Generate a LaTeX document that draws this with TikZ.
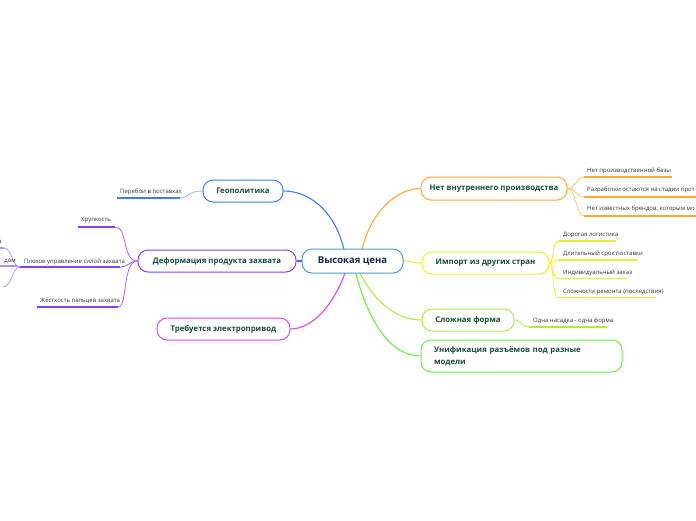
\documentclass[tikz,border=0pt]{standalone}
\usepackage{fontspec}
\setmainfont{Open Sans}
\pgfdeclarelayer{background}
\pgfsetlayers{background,main}
\definecolor{cBlue}{HTML}{3D7BFF}
\definecolor{cPurple}{HTML}{8B3DFF}
\definecolor{cLPurple}{HTML}{B08CFF}
\definecolor{cMag}{HTML}{E545E8}
\definecolor{cOrange}{HTML}{FFA92E}
\definecolor{cYellow}{HTML}{EEEE30}
\definecolor{cLime}{HTML}{A8EE40}
\definecolor{cGreen}{HTML}{66F040}
\definecolor{cCenter}{HTML}{4C9BD6}
\definecolor{lbl}{HTML}{1A4A3C}
\definecolor{ctr}{HTML}{10294D}
\definecolor{txt}{HTML}{333333}
\begin{document}
\begin{tikzpicture}[x=1pt,y=-1pt,
 box/.style={draw, line width=1pt, rounded corners=10pt, fill=white, font=\bfseries\fontsize{7.8}{9}\selectfont, text=lbl, inner sep=0pt, minimum height=22pt},
 small/.style={font=\fontsize{6}{7}\selectfont, text=txt, inner sep=0pt, anchor=base west},
 smallr/.style={font=\fontsize{6}{7}\selectfont, text=txt, inner sep=0pt, anchor=base east},
 br/.style={line width=1.1pt},
 ul/.style={line width=1.6pt}]
\clip (0,0) rectangle (696,520);
\useasboundingbox (0,0) rectangle (696,520);

% main nodes
\node[box, draw=cCenter, minimum width=101pt, minimum height=24pt, font=\bfseries\fontsize{9.5}{11}\selectfont, text=ctr] (c) at (352.5,261) {Высокая цена};
\node[box, draw=cBlue, minimum width=80pt] (geo) at (243,191) {Геополитика};
\node[box, draw=cPurple, minimum width=158pt] (def) at (217,261) {Деформация продукта захвата};
\node[box, draw=cMag, minimum width=133pt] (el) at (223.5,329) {Требуется электропривод};
\node[box, draw=cOrange, minimum width=146pt, minimum height=23pt] (np) at (494,188.5) {Нет внутреннего производства};
\node[box, draw=cYellow, minimum width=127pt] (imp) at (485.5,263) {Импорт из других стран};
\node[box, draw=cLime, minimum width=92pt] (cx) at (468,320) {Сложная форма};
\node[box, draw=cGreen, minimum width=201pt, minimum height=32pt, text width=175pt, align=left, inner xsep=13pt, font=\bfseries\fontsize{7.8}{12}\selectfont] (un) at (521.5,356) {Унификация разъёмов под разные\\модели};

% small texts
\node[small] (g1) at (120,193.3) {Перебои в поставках};
\node[small] (d1) at (81,221.5) {Хрупкость};
\node[small] (d2) at (24,263.3) {Плохое управление силой захвата};
\node[small] (d3) at (40,302.5) {Жёсткость пальцев захвата};
\node[smallr] (d21) at (2,243) {а};
\node[smallr] (d22) at (16,262.5) {дом};
\node[small] (n1) at (587,172.3) {Нет производственной базы};
\node[small] (n2) at (587,191.3) {Разработки остаются на стадии прот};
\node[small] (n3) at (587,210.3) {Нет известных брендов, которым мо};
\node[small] (i1) at (563,236.3) {Дорогая логистика};
\node[small] (i2) at (563,255.3) {Длительный срок поставки};
\node[small] (i3) at (563,274.3) {Индивидуальный заказ};
\node[small] (i4) at (563,293.3) {Сложности ремонта (последствия)};
\node[small] (x1) at (533,322.3) {Одна насадка - одна форма};

% coordinates
\coordinate (cb1) at (345,255);
\coordinate (cb2) at (361,255);
\coordinate (cb3) at (357,267);
\coordinate (cb4) at (354,267);
\coordinate (cb5) at (347,267);
\coordinate (g1a) at (117,198); \coordinate (g1b) at (180,198);
\coordinate (d1a) at (78,227); \coordinate (d1b) at (115,227);
\coordinate (d2a) at (20,267); \coordinate (d2b) at (120,267);
\coordinate (d3a) at (37,307); \coordinate (d3b) at (118,307);
\coordinate (d21a) at (-20,248); \coordinate (d21b) at (4,248);
\coordinate (d22a) at (-20,266); \coordinate (d22b) at (17,266);
\coordinate (d23b) at (3,287);
\coordinate (n1a) at (584,177); \coordinate (n1b) at (672,177);
\coordinate (n2a) at (584,197); \coordinate (n2b) at (700,197);
\coordinate (n3a) at (584,216); \coordinate (n3b) at (700,216);
\coordinate (i1a) at (558,241); \coordinate (i1b) at (616,241);
\coordinate (i2a) at (558,260); \coordinate (i2b) at (637,260);
\coordinate (i3a) at (558,278.5); \coordinate (i3b) at (627,278.5);
\coordinate (i4a) at (558,297.5); \coordinate (i4b) at (656,297.5);
\coordinate (x1a) at (529,327); \coordinate (x1b) at (607,327);

\begin{pgfonlayer}{background}
% main branches
\draw[br, cBlue] (cb1) .. controls (338,215) and (312,191) .. (geo.east);
\draw[br, cOrange] (cb2) .. controls (368,215) and (395,188.5) .. (np.west);
\draw[br, cYellow] (c.east) .. controls (412,261) and (412,263) .. (imp.west);
\draw[br, cLime] (cb3) .. controls (372,300) and (395,320) .. (cx.west);
\draw[br, cGreen] (cb4) .. controls (368,322) and (390,356) .. (un.west);
\draw[br, cMag] (cb5) .. controls (335,305) and (312,329) .. (el.east);
\draw[br, cPurple] (def.east) -- (c.west);
% geo child
\draw[ul, cBlue] (g1a) -- (g1b);
\draw[line width=0.8pt, cBlue!60] (g1b) .. controls (188,198) and (188,191) .. (geo.west);
% deformation children
\draw[ul, cPurple] (d1a) -- (d1b);
\draw[ul, cPurple] (d2a) -- (d2b);
\draw[ul, cPurple] (d3a) -- (d3b);
\draw[line width=0.8pt, cPurple!80] (d1b) .. controls (128,227) and (122,261) .. (def.west);
\draw[line width=0.8pt, cPurple!80] (d2b) .. controls (128,267) and (130,261) .. (def.west);
\draw[line width=0.8pt, cPurple!80] (d3b) .. controls (128,307) and (122,261) .. (def.west);
\draw[ul, cLPurple] (d21a) -- (d21b);
\draw[ul, cLPurple] (d22a) -- (d22b);
\draw[line width=0.7pt, cLPurple] (d2a) .. controls (12,267) and (12,248) .. (d21b);
\draw[line width=0.7pt, cLPurple] (d2a) -- (d22b);
\draw[line width=0.7pt, cLPurple] (d2a) .. controls (12,267) and (12,287) .. (d23b);
% no production children
\draw[ul, cOrange] (n1a) -- (n1b);
\draw[ul, cOrange] (n2a) -- (n2b);
\draw[ul, cOrange] (n3a) -- (n3b);
\draw[line width=0.8pt, cOrange!70] (np.east) .. controls (576,188.5) and (576,177) .. (n1a);
\draw[line width=0.8pt, cOrange!70] (np.east) .. controls (576,188.5) and (576,197) .. (n2a);
\draw[line width=0.8pt, cOrange!70] (np.east) .. controls (576,188.5) and (576,216) .. (n3a);
% import children
\draw[ul, cYellow] (i1a) -- (i1b);
\draw[ul, cYellow] (i2a) -- (i2b);
\draw[ul, cYellow] (i3a) -- (i3b);
\draw[ul, cYellow] (i4a) -- (i4b);
\draw[line width=0.8pt, cYellow] (imp.east) .. controls (554,263) and (552,241) .. (i1a);
\draw[line width=0.8pt, cYellow] (imp.east) .. controls (554,263) and (552,260) .. (i2a);
\draw[line width=0.8pt, cYellow] (imp.east) .. controls (554,263) and (552,278.5) .. (i3a);
\draw[line width=0.8pt, cYellow] (imp.east) .. controls (554,263) and (552,297.5) .. (i4a);
% complex child
\draw[ul, cLime] (x1a) -- (x1b);
\draw[line width=0.8pt, cLime] (cx.east) .. controls (522,320) and (520,327) .. (x1a);
\end{pgfonlayer}
\end{tikzpicture}
\end{document}
